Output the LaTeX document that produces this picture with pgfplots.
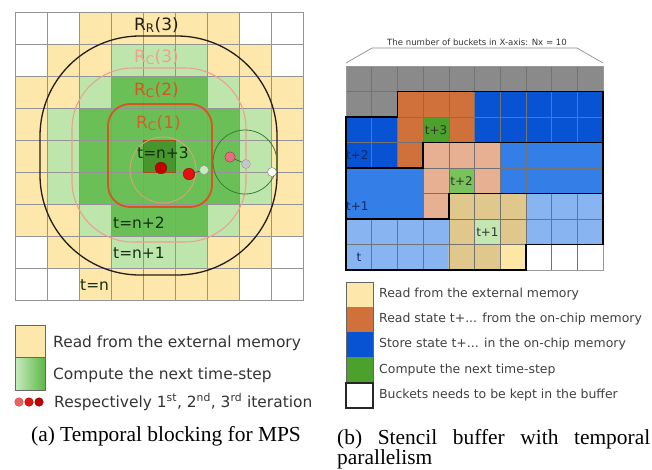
\documentclass[border=0pt]{standalone}
\usepackage{pgfplots}
\pgfplotsset{compat=1.18}
\usepackage{fontspec}
\setmainfont{Liberation Serif}
\newfontfamily\dv{DejaVu Sans}
\definecolor{lY}{RGB}{254,231,170}
\definecolor{lOr}{RGB}{208,112,58}
\definecolor{lBl}{RGB}{8,82,212}
\definecolor{lGr}{RGB}{76,160,44}
\definecolor{gLight}{RGB}{200,236,190}
\definecolor{gMid}{RGB}{92,184,72}
\definecolor{cRR}{RGB}{35,30,20}
\definecolor{cRC3}{RGB}{235,160,145}
\definecolor{cRC2}{RGB}{215,85,30}
\definecolor{cRC1}{RGB}{210,95,40}
\definecolor{cT}{RGB}{20,45,20}
\begin{document}
\begin{tikzpicture}
\useasboundingbox (0bp,0bp) rectangle (652bp,-470bp);
% ---------- panel (a) cells
\begin{axis}[at={(15bp,-12bp)}, anchor=north west, scale only axis,
 width=288bp, height=288bp, xmin=0, xmax=9, ymin=0, ymax=9, y dir=reverse,
 xtick={0,...,9}, ytick={0,...,9}, xticklabels={}, yticklabels={}, major tick length=0pt,
 grid=major, grid style={draw=black!42, line width=0.45pt},
 axis line style={draw=black!42, line width=0.45pt}, axis on top,
 colormap={cmA}{rgb255=(255,255,255) rgb255=(254,231,170) rgb255=(190,230,172) rgb255=(106,192,86) rgb255=(70,150,45)},
 colormap access=direct]
\addplot[matrix plot*, mesh/cols=9, point meta=explicit] coordinates {
(0.5,0.5)[0] (1.5,0.5)[0] (2.5,0.5)[1] (3.5,0.5)[1] (4.5,0.5)[1] (5.5,0.5)[1] (6.5,0.5)[1] (7.5,0.5)[0] (8.5,0.5)[0]
(0.5,1.5)[0] (1.5,1.5)[1] (2.5,1.5)[1] (3.5,1.5)[2] (4.5,1.5)[2] (5.5,1.5)[2] (6.5,1.5)[1] (7.5,1.5)[1] (8.5,1.5)[0]
(0.5,2.5)[1] (1.5,2.5)[1] (2.5,2.5)[2] (3.5,2.5)[3] (4.5,2.5)[3] (5.5,2.5)[3] (6.5,2.5)[2] (7.5,2.5)[1] (8.5,2.5)[1]
(0.5,3.5)[1] (1.5,3.5)[2] (2.5,3.5)[3] (3.5,3.5)[3] (4.5,3.5)[3] (5.5,3.5)[3] (6.5,3.5)[3] (7.5,3.5)[2] (8.5,3.5)[1]
(0.5,4.5)[1] (1.5,4.5)[2] (2.5,4.5)[3] (3.5,4.5)[3] (4.5,4.5)[4] (5.5,4.5)[3] (6.5,4.5)[3] (7.5,4.5)[2] (8.5,4.5)[1]
(0.5,5.5)[1] (1.5,5.5)[2] (2.5,5.5)[3] (3.5,5.5)[3] (4.5,5.5)[3] (5.5,5.5)[3] (6.5,5.5)[3] (7.5,5.5)[2] (8.5,5.5)[1]
(0.5,6.5)[1] (1.5,6.5)[1] (2.5,6.5)[2] (3.5,6.5)[3] (4.5,6.5)[3] (5.5,6.5)[3] (6.5,6.5)[2] (7.5,6.5)[1] (8.5,6.5)[1]
(0.5,7.5)[0] (1.5,7.5)[1] (2.5,7.5)[1] (3.5,7.5)[2] (4.5,7.5)[2] (5.5,7.5)[2] (6.5,7.5)[1] (7.5,7.5)[1] (8.5,7.5)[0]
(0.5,8.5)[0] (1.5,8.5)[0] (2.5,8.5)[1] (3.5,8.5)[1] (4.5,8.5)[1] (5.5,8.5)[1] (6.5,8.5)[1] (7.5,8.5)[0] (8.5,8.5)[0]
};
\end{axis}
% ---------- panel (b) cells
\begin{axis}[at={(346bp,-66bp)}, anchor=north west, scale only axis,
 width=257bp, height=204bp, xmin=0, xmax=10, ymin=0, ymax=8, y dir=reverse,
 xtick={0,...,10}, ytick={0,...,8}, xticklabels={}, yticklabels={}, major tick length=0pt,
 grid=major, grid style={draw=black!55, line width=0.45pt},
 axis line style={draw=black!40, line width=0.45pt}, axis on top,
 colormap={cmB}{rgb255=(255,255,255) rgb255=(138,138,138) rgb255=(208,112,58) rgb255=(8,82,212)
   rgb255=(52,126,232) rgb255=(136,180,242) rgb255=(232,176,146) rgb255=(224,200,140)
   rgb255=(254,230,165) rgb255=(76,160,44) rgb255=(120,196,90) rgb255=(196,230,176)},
 colormap access=direct]
\addplot[matrix plot*, mesh/cols=10, point meta=explicit] coordinates {
(0.5,0.5)[1] (1.5,0.5)[1] (2.5,0.5)[1] (3.5,0.5)[1] (4.5,0.5)[1] (5.5,0.5)[1] (6.5,0.5)[1] (7.5,0.5)[1] (8.5,0.5)[1] (9.5,0.5)[1]
(0.5,1.5)[1] (1.5,1.5)[1] (2.5,1.5)[2] (3.5,1.5)[2] (4.5,1.5)[2] (5.5,1.5)[3] (6.5,1.5)[3] (7.5,1.5)[3] (8.5,1.5)[3] (9.5,1.5)[3]
(0.5,2.5)[3] (1.5,2.5)[3] (2.5,2.5)[2] (3.5,2.5)[9] (4.5,2.5)[2] (5.5,2.5)[3] (6.5,2.5)[3] (7.5,2.5)[3] (8.5,2.5)[3] (9.5,2.5)[3]
(0.5,3.5)[3] (1.5,3.5)[3] (2.5,3.5)[2] (3.5,3.5)[6] (4.5,3.5)[6] (5.5,3.5)[6] (6.5,3.5)[4] (7.5,3.5)[4] (8.5,3.5)[4] (9.5,3.5)[4]
(0.5,4.5)[4] (1.5,4.5)[4] (2.5,4.5)[4] (3.5,4.5)[6] (4.5,4.5)[10] (5.5,4.5)[6] (6.5,4.5)[4] (7.5,4.5)[4] (8.5,4.5)[4] (9.5,4.5)[4]
(0.5,5.5)[4] (1.5,5.5)[4] (2.5,5.5)[4] (3.5,5.5)[6] (4.5,5.5)[7] (5.5,5.5)[7] (6.5,5.5)[7] (7.5,5.5)[5] (8.5,5.5)[5] (9.5,5.5)[5]
(0.5,6.5)[5] (1.5,6.5)[5] (2.5,6.5)[5] (3.5,6.5)[5] (4.5,6.5)[7] (5.5,6.5)[11] (6.5,6.5)[7] (7.5,6.5)[5] (8.5,6.5)[5] (9.5,6.5)[5]
(0.5,7.5)[5] (1.5,7.5)[5] (2.5,7.5)[5] (3.5,7.5)[5] (4.5,7.5)[7] (5.5,7.5)[7] (6.5,7.5)[8] (7.5,7.5)[0] (8.5,7.5)[0] (9.5,7.5)[0]
};
\end{axis}
% ---------- overlay (pixel coordinates)
\begin{axis}[at={(0bp,0bp)}, anchor=north west, scale only axis,
 width=652bp, height=470bp, xmin=0, xmax=652, ymin=0, ymax=470, y dir=reverse,
 hide axis, clip=false]
% (a) contours
\draw[cRR, line width=1.3pt, rounded corners=100bp] (axis cs:40,36) rectangle (axis cs:277,275);
\draw[cRC3, line width=1.1pt, rounded corners=61bp] (axis cs:72,68) rectangle (axis cs:246,242);
\draw[cRC2, line width=1.8pt, rounded corners=22bp] (axis cs:108,104) rectangle (axis cs:212,207);
\draw[cRC1!80!black, line width=0.9pt] (axis cs:143,140) rectangle (axis cs:175,172);
\draw[cRC1!60, line width=0.8pt] (axis cs:163,170) circle[radius=33bp];
\draw[black!50!green!60!gray, line width=0.8pt] (axis cs:245,162) circle[radius=32bp];
\draw[black!70, line width=0.6pt] (axis cs:189,174) -- (axis cs:204,170);
\draw[black!70, line width=0.6pt] (axis cs:230,157) -- (axis cs:246,164);
\addplot[only marks, mark=*, mark size=5.8pt, mark options={fill={rgb,255:red,195;green,0;blue,0}, draw={rgb,255:red,140;green,0;blue,0}}] coordinates {(161,168)};
\addplot[only marks, mark=*, mark size=5.8pt, mark options={fill={rgb,255:red,228;green,16;blue,16}, draw={rgb,255:red,160;green,0;blue,0}}] coordinates {(189,174)};
\addplot[only marks, mark=*, mark size=5.2pt, mark options={fill={rgb,255:red,228;green,110;blue,128}, draw={rgb,255:red,170;green,50;blue,60}}] coordinates {(230,157)};
\addplot[only marks, mark=*, mark size=4.5pt, mark options={fill=gLight, draw=black!40}] coordinates {(204,170)};
\addplot[only marks, mark=*, mark size=4.5pt, mark options={fill=black!22, draw=black!40}] coordinates {(246,164)};
\addplot[only marks, mark=*, mark size=4.5pt, mark options={fill=white, draw=black!50}] coordinates {(272,172)};
\node[font=\dv\fontsize{7}{8}\selectfont, text=black!60] at (axis cs:204,169) {c};
\node[font=\dv\fontsize{7}{8}\selectfont, text=black!60] at (axis cs:246,163) {b};
\node[font=\dv\fontsize{7}{8}\selectfont, text=black!60] at (axis cs:272,171) {a};
\node[font=\dv\fontsize{7}{8}\selectfont, text=black!70] at (axis cs:230,156) {b};
% (a) labels
\node[anchor=base west, inner sep=0pt, text=cRR, font=\dv\fontsize{17}{20}\selectfont] at (axis cs:134,30) {R\textsubscript{R}(3)};
\node[anchor=base west, inner sep=0pt, text=cRC3, font=\dv\fontsize{17}{20}\selectfont] at (axis cs:134,62) {R\textsubscript{C}(3)};
\node[anchor=base west, inner sep=0pt, text=cRC2, font=\dv\fontsize{17}{20}\selectfont] at (axis cs:134,95) {R\textsubscript{C}(2)};
\node[anchor=base west, inner sep=0pt, text=cRC1, font=\dv\fontsize{17}{20}\selectfont] at (axis cs:136,128) {R\textsubscript{C}(1)};
\node[anchor=base west, inner sep=0pt, text=cT, font=\dv\fontsize{15.5}{18}\selectfont] at (axis cs:137,158) {t=n+3};
\node[anchor=base west, inner sep=0pt, text=cT, font=\dv\fontsize{15.5}{18}\selectfont] at (axis cs:113,228) {t=n+2};
\node[anchor=base west, inner sep=0pt, text=cT, font=\dv\fontsize{15.5}{18}\selectfont] at (axis cs:113,258) {t=n+1};
\node[anchor=base west, inner sep=0pt, text=cT, font=\dv\fontsize{15.5}{18}\selectfont] at (axis cs:80,290) {t=n};
% (a) legend
\fill[lY] (axis cs:15,325) rectangle (axis cs:45,357);
\shade[left color=gLight, right color=gMid] (axis cs:15,357) rectangle (axis cs:45,390);
\draw[black!60, line width=0.7pt] (axis cs:15,325) rectangle (axis cs:45,390);
\draw[black!60, line width=0.7pt] (axis cs:15,357) -- (axis cs:45,357);
\addplot[only marks, mark=*, mark size=4.3pt, mark options={fill={rgb,255:red,232;green,100;blue,100}, draw={rgb,255:red,200;green,60;blue,60}}] coordinates {(19,402)};
\addplot[only marks, mark=*, mark size=4.3pt, mark options={fill={rgb,255:red,220;green,20;blue,20}, draw={rgb,255:red,170;green,0;blue,0}}] coordinates {(29,402)};
\addplot[only marks, mark=*, mark size=4.3pt, mark options={fill={rgb,255:red,190;green,0;blue,0}, draw={rgb,255:red,140;green,0;blue,0}}] coordinates {(39,402)};
\node[anchor=base west, inner sep=0pt, text=black!80, font=\dv\fontsize{15.5}{18}\selectfont] at (axis cs:53,347) {Read from the external memory};
\node[anchor=base west, inner sep=0pt, text=black!80, font=\dv\fontsize{15.5}{18}\selectfont] at (axis cs:53,379) {Compute the next time-step};
\node[anchor=base west, inner sep=0pt, text=black!80, font=\dv\fontsize{15.5}{18}\selectfont] at (axis cs:54,407) {Respectively 1\textsuperscript{st}, 2\textsuperscript{nd}, 3\textsuperscript{rd} iteration};
\node[anchor=base, inner sep=0pt, font=\fontsize{21.5}{24}\selectfont] at (axis cs:166,441) {(a) Temporal blocking for MPS};
% (b) outlines
\draw[black, line width=1.6pt, line join=miter] (axis cs:346,117) -- (axis cs:346,270) -- (axis cs:525.9,270) -- (axis cs:525.9,244.5) -- (axis cs:603,244.5) -- (axis cs:603,91.5) -- (axis cs:397.4,91.5) -- (axis cs:397.4,117) -- cycle;
\draw[black, line width=1.6pt] (axis cs:346,168) -- (axis cs:423.1,168) -- (axis cs:423.1,142.5) -- (axis cs:603,142.5);
\draw[black, line width=1.6pt] (axis cs:346,219) -- (axis cs:448.8,219) -- (axis cs:448.8,193.5) -- (axis cs:603,193.5);
% (b) bracket and labels
\draw[black!45, line width=0.7pt] (axis cs:346,63) -- (axis cs:372,48) -- (axis cs:577,48) -- (axis cs:603,63);
\node[inner sep=0pt, text=black!80, font=\dv\fontsize{8.6}{10}\selectfont] at (axis cs:477,42) {The number of buckets in X-axis: Nx = 10};
\node[inner sep=0pt, text=black!80, font=\dv\fontsize{12}{14}\selectfont] at (axis cs:436,130) {t+3};
\node[inner sep=0pt, text=black!80, font=\dv\fontsize{12}{14}\selectfont] at (axis cs:461.6,181) {t+2};
\node[inner sep=0pt, text=black!80, font=\dv\fontsize{12}{14}\selectfont] at (axis cs:487.4,232) {t+1};
\node[anchor=west, inner sep=0pt, text={rgb,255:red,20;green,40;blue,100}, font=\dv\fontsize{12}{14}\selectfont] at (axis cs:346,155) {t+2};
\node[anchor=west, inner sep=0pt, text={rgb,255:red,20;green,40;blue,100}, font=\dv\fontsize{12}{14}\selectfont] at (axis cs:346,206) {t+1};
\node[inner sep=0pt, text={rgb,255:red,20;green,40;blue,100}, font=\dv\fontsize{12}{14}\selectfont] at (axis cs:358.9,257) {t};
% (b) legend
\fill[lY] (axis cs:346,282) rectangle (axis cs:373,307);
\fill[lOr] (axis cs:346,307) rectangle (axis cs:373,332);
\fill[lBl] (axis cs:346,332) rectangle (axis cs:373,357);
\fill[lGr] (axis cs:346,357) rectangle (axis cs:373,383);
\draw[black!60, line width=0.6pt] (axis cs:346,282) rectangle (axis cs:373,383);
\draw[black!85, line width=1.2pt] (axis cs:346,383) rectangle (axis cs:373,408);
\node[anchor=west, inner sep=0pt, text=black!75, font=\dv\fontsize{12.5}{14}\selectfont] at (axis cs:379,294.5) {Read from the external memory};
\node[anchor=west, inner sep=0pt, text=black!75, font=\dv\fontsize{12.5}{14}\selectfont] at (axis cs:379,319.5) {Read state t+... from the on-chip memory};
\node[anchor=west, inner sep=0pt, text=black!75, font=\dv\fontsize{12.5}{14}\selectfont] at (axis cs:379,344.5) {Store state t+... in the on-chip memory};
\node[anchor=west, inner sep=0pt, text=black!75, font=\dv\fontsize{12.5}{14}\selectfont] at (axis cs:379,370) {Compute the next time-step};
\node[anchor=west, inner sep=0pt, text=black!75, font=\dv\fontsize{12.5}{14}\selectfont] at (axis cs:379,395.5) {Buckets needs to be kept in the buffer};
\node[anchor=base west, inner sep=0pt, font=\fontsize{21.5}{24}\selectfont] at (axis cs:337,444) {\makebox[313bp][s]{(b) Stencil buffer with temporal}};
\node[anchor=base west, inner sep=0pt, font=\fontsize{21.5}{24}\selectfont] at (axis cs:337,464) {parallelism};
\end{axis}
\end{tikzpicture}
\end{document}
